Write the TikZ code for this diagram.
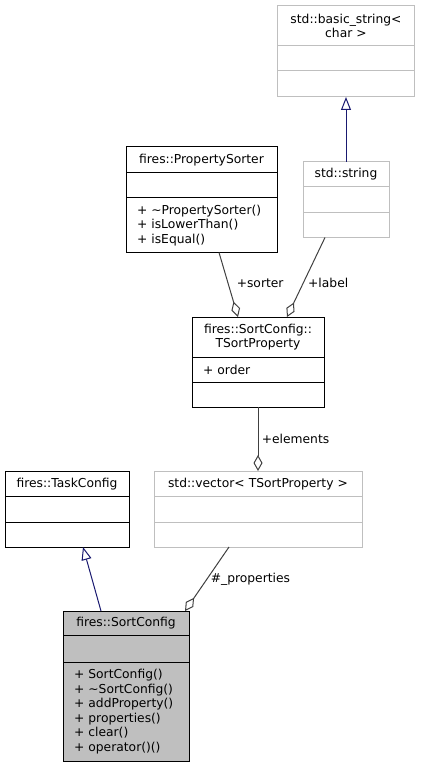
\documentclass[tikz,border=0pt]{standalone}
\usepackage{fontspec}
\usetikzlibrary{positioning,arrows.meta}
\newfontfamily\dgfont{DejaVu Sans}
\newcommand\dgsize{\fontsize{12.3}{14.6}\selectfont}
\definecolor{edgegray}{HTML}{404040}
\definecolor{boxgray}{HTML}{BFBFBF}
\definecolor{inhblue}{HTML}{191970}
\tikzset{
  classbox/.style={draw=black, fill=white, line width=1pt, inner xsep=11pt, inner ysep=0pt, outer sep=0pt,
    anchor=north, align=center, font=\dgfont\dgsize},
  extbox/.style={classbox, draw=boxgray},
  members/.style={align=left},
  inherit/.style={draw=inhblue, line width=1pt, -{Triangle[open, length=13pt, width=10pt]}},
  member/.style={draw=edgegray, line width=1pt, -{Diamond[open, length=16pt, width=9pt]}},
  rolelabel/.style={right, font=\dgfont\dgsize, text=black}
}
\begin{document}
\begin{tikzpicture}[x=1pt, y=-1pt]
  \useasboundingbox (0,0) rectangle (420,767);
  % std classes (not documented, light grey)
  \node[extbox, text width=115pt, minimum height=40pt] (bstr) at (346,6) {std::basic\_string<\\char >};
  \node[extbox, text width=115pt, minimum height=25pt, below=0pt of bstr] (bstr-a) {};
  \node[extbox, text width=115pt, minimum height=26pt, below=0pt of bstr-a] (bstr-m) {};
  \node[extbox, text width=64pt, minimum height=25pt] (sstr) at (346,162) {std::string};
  \node[extbox, text width=64pt, minimum height=25.5pt, below=0pt of sstr] (sstr-a) {};
  \node[extbox, text width=64pt, minimum height=25pt, below=0pt of sstr-a] (sstr-m) {};
  % sorter
  \node[classbox, text width=129pt, minimum height=25.5pt] (ssort) at (201.5,147) {fires::PropertySorter};
  \node[classbox, text width=129pt, minimum height=25.5pt, below=0pt of ssort] (ssort-a) {};
  \node[classbox, members, text width=129pt, minimum height=54.5pt, below=0pt of ssort-a] (ssort-m)
    {+ \textasciitilde PropertySorter()\\+ isLowerThan()\\+ isEqual()};
  % sort property
  \node[classbox, text width=110pt, minimum height=40pt] (tsp) at (258,317) {fires::SortConfig::\\TSortProperty};
  \node[classbox, members, text width=110pt, minimum height=25pt, below=0pt of tsp] (tsp-a) {+ order};
  \node[classbox, text width=110pt, minimum height=25pt, below=0pt of tsp-a] (tsp-m) {};
  % base class and container
  \node[classbox, text width=102pt, minimum height=25.5pt] (task) at (67,471) {fires::TaskConfig};
  \node[classbox, text width=102pt, minimum height=25.5pt, below=0pt of task] (task-a) {};
  \node[classbox, text width=102pt, minimum height=25pt, below=0pt of task-a] (task-m) {};
  \node[extbox, text width=186pt, minimum height=25.5pt] (vec) at (258,471) {std::vector< TSortProperty >};
  \node[extbox, text width=186pt, minimum height=25.5pt, below=0pt of vec] (vec-a) {};
  \node[extbox, text width=186pt, minimum height=25pt, below=0pt of vec-a] (vec-m) {};
  % the class itself
  \node[classbox, fill=boxgray, text width=104pt, minimum height=24pt] (sort) at (126,611) {fires::SortConfig};
  \node[classbox, fill=boxgray, text width=104pt, minimum height=27pt, below=0pt of sort] (sort-a) {};
  \node[classbox, fill=boxgray, members, text width=104pt, minimum height=99pt, below=0pt of sort-a] (sort-m)
    {+ SortConfig()\\+ \textasciitilde SortConfig()\\+ addProperty()\\+ properties()\\+ clear()\\+ operator()()};
  % edges
  \draw[inherit] (sstr.north) -- (bstr-m.south);
  \draw[inherit] ([xshift=-25pt]sort.north) -- ([xshift=16pt]task-m.south);
  \draw[member] ([xshift=17.5pt]ssort-m.south) -- node[rolelabel, pos=0.47, xshift=5pt] {+sorter} ([xshift=-20pt]tsp.north);
  \draw[member] ([xshift=-21pt]sstr-m.south) -- node[rolelabel, pos=0.57, xshift=1pt] {+label} ([xshift=29pt]tsp.north);
  \draw[member] (tsp-m.south) -- node[rolelabel] {+elements} (vec.north);
  \draw[member] ([xshift=-29pt]vec-m.south) -- node[rolelabel] {\#\_properties} ([xshift=59pt]sort.north);
\end{tikzpicture}
\end{document}
